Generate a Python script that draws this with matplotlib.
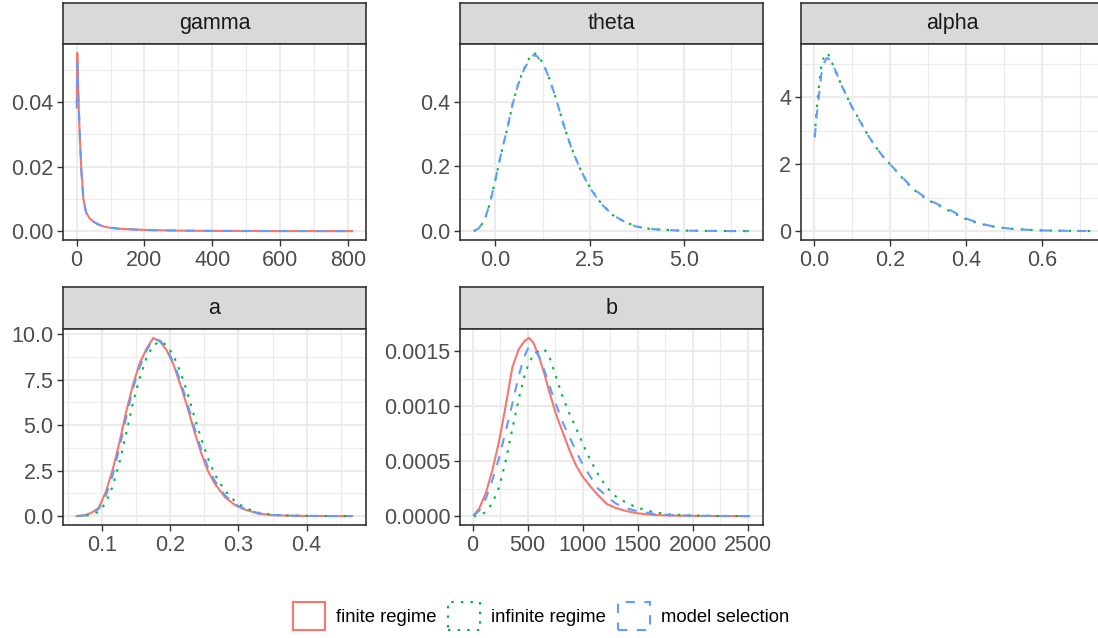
import numpy as np
import matplotlib
matplotlib.use("Agg")
import matplotlib.pyplot as plt
from matplotlib.ticker import MultipleLocator, FormatStrFormatter
from matplotlib.patches import Patch

plt.rcParams['font.family'] = ['Liberation Sans', 'DejaVu Sans']

# series names and colours (ggplot hue defaults)
series = ["finite regime", "infinite regime", "model selection"]
colors = ["#F8766D", "#00BA38", "#619CFF"]
styles = ["-", (0, (1.2, 3.4)), (0, (4.5, 4.5))]

# gamma : finite + model selection
gamma_x = [0.5, 2, 4, 7, 10, 14, 20, 28, 38, 50, 65, 80, 100, 130, 170, 220, 300, 400, 500, 600, 700, 813]
gamma_finite = [0.040, 0.0552, 0.047, 0.036, 0.028, 0.019, 0.0100, 0.0058, 0.0040, 0.0029, 0.0020, 0.0014,
                0.0010, 0.0007, 0.0005, 0.0003, 0.00015, 0.00006, 0.00003, 0.00001, 0.0, 0.0]
gamma_model = [0.038, 0.052, 0.044, 0.037, 0.028, 0.0185, 0.0098, 0.0057, 0.0040, 0.0029, 0.0020, 0.0014,
               0.0010, 0.0007, 0.0005, 0.0003, 0.00015, 0.00006, 0.00003, 0.00001, 0.0, 0.0]

# theta : infinite + model selection
theta_x = [-0.575, -0.45, -0.3, -0.15, 0.0, 0.15, 0.3, 0.45, 0.6, 0.75, 0.9, 1.0, 1.1, 1.25, 1.4, 1.6, 1.8,
           2.0, 2.25, 2.5, 2.8, 3.1, 3.4, 3.7, 4.0, 4.4, 4.8, 5.3, 6.0, 6.72]
theta_infinite = [0.0, 0.008, 0.03, 0.085, 0.16, 0.24, 0.31, 0.39, 0.455, 0.50, 0.535, 0.55, 0.545, 0.52,
                  0.48, 0.41, 0.33, 0.26, 0.19, 0.135, 0.085, 0.05, 0.03, 0.015, 0.008, 0.004, 0.002, 0.001,
                  0.0003, 0.0]
theta_model = [0.0, 0.008, 0.03, 0.085, 0.16, 0.24, 0.31, 0.39, 0.452, 0.497, 0.53, 0.543, 0.54, 0.518,
               0.48, 0.41, 0.33, 0.26, 0.19, 0.133, 0.084, 0.05, 0.03, 0.015, 0.008, 0.004, 0.002, 0.001,
               0.0003, 0.0]

# alpha : infinite + model selection
alpha_x = [0.0015, 0.006, 0.012, 0.019, 0.027, 0.034, 0.042, 0.05, 0.06, 0.07, 0.085, 0.1, 0.12, 0.14,
           0.16, 0.18, 0.2, 0.225, 0.25, 0.275, 0.3, 0.33, 0.36, 0.4, 0.44, 0.48, 0.52, 0.56, 0.6, 0.65, 0.728]
alpha_infinite = [2.85, 3.6, 4.3, 4.95, 5.25, 5.33, 5.2, 4.95, 4.68, 4.42, 4.05, 3.7, 3.32, 2.9, 2.55,
                  2.25, 2.0, 1.68, 1.38, 1.12, 0.93, 0.76, 0.58, 0.36, 0.21, 0.12, 0.07, 0.04, 0.02, 0.01, 0.0]
alpha_model = [2.8, 3.4, 4.0, 4.7, 5.05, 5.18, 5.12, 4.95, 4.7, 4.42, 4.05, 3.7, 3.3, 2.9, 2.55, 2.25,
               2.0, 1.7, 1.4, 1.15, 0.95, 0.78, 0.62, 0.38, 0.22, 0.12, 0.07, 0.04, 0.02, 0.01, 0.0]

# a : all three
a_x = [0.0627, 0.075, 0.085, 0.095, 0.105, 0.115, 0.125, 0.135, 0.145, 0.155, 0.165, 0.175, 0.185, 0.195,
       0.205, 0.215, 0.225, 0.235, 0.245, 0.255, 0.265, 0.28, 0.295, 0.31, 0.33, 0.35, 0.38, 0.42, 0.467]
a_finite = [0.0, 0.05, 0.2, 0.45, 1.3, 2.5, 4.0, 5.7, 7.2, 8.4, 9.2, 9.8, 9.6, 9.1, 8.3, 7.2, 6.0, 4.7,
            3.5, 2.5, 1.8, 1.05, 0.6, 0.35, 0.13, 0.05, 0.015, 0.003, 0.0]
a_infinite = [0.0, 0.02, 0.08, 0.25, 0.7, 1.6, 2.9, 4.5, 6.2, 7.6, 8.7, 9.4, 9.6, 9.4, 8.8, 7.9, 6.8, 5.5,
              4.3, 3.2, 2.3, 1.4, 0.8, 0.45, 0.18, 0.07, 0.02, 0.005, 0.0]
a_model = [0.0, 0.04, 0.15, 0.4, 1.1, 2.2, 3.7, 5.4, 7.0, 8.2, 9.1, 9.75, 9.65, 9.2, 8.4, 7.4, 6.2, 4.9,
           3.7, 2.7, 1.95, 1.15, 0.65, 0.38, 0.15, 0.06, 0.02, 0.004, 0.0]

# b : all three (density x 1e-4)
b_x = [10, 60, 120, 180, 240, 300, 360, 420, 470, 510, 550, 600, 650, 700, 760, 820, 880, 940, 1000,
       1070, 1140, 1220, 1300, 1400, 1500, 1650, 1800, 2000, 2250, 2515]
b_finite = [0.1, 0.7, 2.1, 4.2, 6.8, 10.0, 13.5, 15.2, 15.9, 16.2, 15.8, 14.6, 13.0, 11.2, 9.2, 7.6, 6.0,
            4.6, 3.6, 2.7, 1.9, 1.1, 0.75, 0.45, 0.25, 0.1, 0.05, 0.02, 0.005, 0.0]
b_infinite = [0.0, 0.1, 0.35, 1.2, 2.6, 5.0, 7.9, 10.7, 12.7, 13.9, 14.6, 15.0, 15.2, 14.4, 12.6, 10.8,
              9.3, 8.0, 6.6, 5.1, 3.8, 2.6, 1.8, 1.2, 0.75, 0.35, 0.15, 0.05, 0.01, 0.0]
b_model = [0.05, 0.5, 1.6, 3.3, 5.3, 7.7, 10.2, 12.8, 14.5, 15.4, 15.2, 14.6, 13.3, 11.8, 10.1, 8.5, 7.2,
           5.9, 4.7, 3.6, 2.5, 1.8, 1.15, 0.7, 0.45, 0.2, 0.08, 0.03, 0.01, 0.0]

W, H = 1098, 638
fig = plt.figure(figsize=(W / 100, H / 100), dpi=100)

def px_axes(left, top, right, bottom):
    return fig.add_axes([left / W, 1 - bottom / H, (right - left) / W, (bottom - top) / H])

def panel(col_left, strip_top, strip_bot, pan_bot, title, curves, xmaj, ymaj, xfmt, yfmt):
    right = col_left + 303
    s = px_axes(col_left, strip_top, right, strip_bot)
    s.set_facecolor("#D9D9D9")
    s.set_xticks([]); s.set_yticks([])
    for sp in s.spines.values():
        sp.set_color("#333333"); sp.set_linewidth(1.2)
    s.text(0.5, 0.5, title, ha="center", va="center", fontsize=15.5, color="#1A1A1A",
           transform=s.transAxes)
    ax = px_axes(col_left, strip_bot, right, pan_bot)
    for idx, x, y in curves:
        ax.plot(x, y, color=colors[idx], linestyle=styles[idx], linewidth=1.5, zorder=3 + idx)
    ax.margins(0.05)
    ax.xaxis.set_major_locator(MultipleLocator(xmaj))
    ax.xaxis.set_minor_locator(MultipleLocator(xmaj / 2))
    ax.yaxis.set_major_locator(MultipleLocator(ymaj))
    ax.yaxis.set_minor_locator(MultipleLocator(ymaj / 2))
    ax.xaxis.set_major_formatter(FormatStrFormatter(xfmt))
    ax.yaxis.set_major_formatter(FormatStrFormatter(yfmt))
    ax.grid(which="major", color="#EBEBEB", linewidth=1.5, zorder=0)
    ax.grid(which="minor", color="#EBEBEB", linewidth=0.8, zorder=0)
    ax.set_axisbelow(True)
    ax.tick_params(which="major", length=4, width=1.0, color="#333333", labelsize=15.5,
                   labelcolor="#4D4D4D", pad=3)
    ax.tick_params(which="minor", length=0)
    for sp in ax.spines.values():
        sp.set_color("#333333"); sp.set_linewidth(1.2)
    return ax

panel(63, 3, 44, 240, "gamma", [(0, gamma_x, gamma_finite), (2, gamma_x, gamma_model)],
      200, 0.02, "%d", "%.2f")
panel(460, 3, 44, 240, "theta", [(1, theta_x, theta_infinite), (2, theta_x, theta_model)],
      2.5, 0.2, "%.1f", "%.1f")
panel(801, 3, 44, 240, "alpha", [(1, alpha_x, alpha_infinite), (2, alpha_x, alpha_model)],
      0.2, 2, "%.1f", "%d")
panel(63, 287, 329, 525, "a", [(0, a_x, a_finite), (1, a_x, a_infinite), (2, a_x, a_model)],
      0.1, 2.5, "%.1f", "%.1f")
b_scale = 1e-4
panel(460, 287, 329, 525, "b",
      [(0, b_x, np.array(b_finite) * b_scale), (1, b_x, np.array(b_infinite) * b_scale),
       (2, b_x, np.array(b_model) * b_scale)],
      500, 0.0005, "%d", "%.4f")

handles = [Patch(facecolor="none", edgecolor=colors[i], linestyle=styles[i], linewidth=1.5,
                 label=series[i]) for i in range(3)]
fig.legend(handles=handles, loc="center", bbox_to_anchor=(541 / W, 1 - 616 / H), ncol=3,
           frameon=False, fontsize=13.3, handlelength=1.73, handleheight=2.0,
           handletextpad=0.6, columnspacing=0.65, borderpad=0)

fig.savefig("out.png", dpi=100, facecolor="white")
